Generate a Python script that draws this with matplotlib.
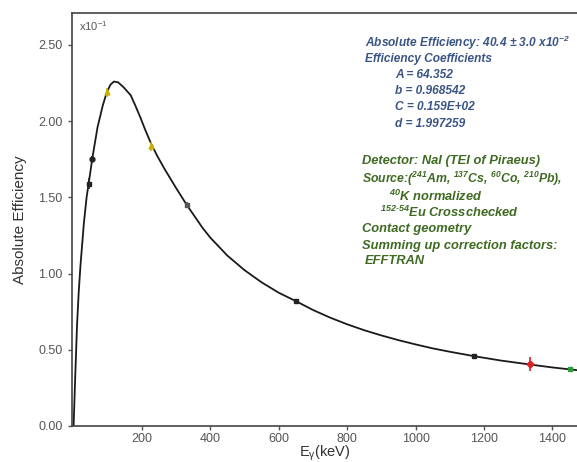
import numpy as np
import matplotlib
matplotlib.use("Agg")
import matplotlib.pyplot as plt

plt.rcParams['font.family'] = ['Liberation Sans', 'DejaVu Sans']
plt.rcParams['mathtext.fontset'] = 'custom'
plt.rcParams['mathtext.rm'] = 'Liberation Sans'
plt.rcParams['mathtext.it'] = 'Liberation Sans:italic'
plt.rcParams['mathtext.bf'] = 'Liberation Sans:italic:bold'

# fitted efficiency curve (E in keV, efficiency x10^-1)
curve_e = [0, 5, 10, 15, 20, 30, 38, 46, 55, 70, 85, 97, 108, 118, 130, 145,
           167, 180, 196, 210, 227, 245, 265, 300, 331, 377, 400, 450, 500,
           550, 600, 651, 700, 750, 800, 850, 900, 950, 1000, 1050, 1100,
           1171, 1250, 1335, 1400, 1452, 1480]
curve_eff = [0.0, 0.34, 0.66, 0.88, 1.05, 1.33, 1.50, 1.62, 1.76, 1.96, 2.10,
             2.19, 2.24, 2.26, 2.255, 2.225, 2.17, 2.105, 2.02, 1.94, 1.85,
             1.77, 1.69, 1.56, 1.45, 1.30, 1.235, 1.117, 1.022, 0.942, 0.874,
             0.818, 0.761, 0.711, 0.667, 0.628, 0.594, 0.563, 0.535, 0.509,
             0.487, 0.458, 0.429, 0.403, 0.384, 0.371, 0.364]

# measured points
pt_e = [46, 55, 97, 227, 331, 651, 1171, 1335, 1452]
pt_eff = [1.59, 1.75, 2.19, 1.835, 1.447, 0.818, 0.458, 0.406, 0.371]
pt_err = [0.035, 0.02, 0.03, 0.03, 0.02, 0.01, 0.01, 0.045, 0.012]
pt_color = ['#222222', '#222222', '#c8b400', '#c8b400', '#555555',
            '#222222', '#222222', '#e02020', '#2a9a3a']
pt_marker = ['s', 'o', '^', '^', 's', 's', 's', 'D', 's']

fig = plt.figure(figsize=(5.77, 4.62), dpi=100)
ax = fig.add_axes([0.124, 0.078, 0.876, 0.894])

ax.plot(curve_e, curve_eff, color='#1a1a1a', lw=1.3, zorder=2)
for e, v, err, c, m in zip(pt_e, pt_eff, pt_err, pt_color, pt_marker):
    ax.errorbar(e, v, yerr=err, fmt=m, color=c, ms=3.5, elinewidth=1.2,
                capsize=0, zorder=3)

ax.set_xlim(-6, 1472)
ax.set_ylim(0, 2.71)
ax.set_xticks([200, 400, 600, 800, 1000, 1200, 1400])
ax.set_yticks([0, 0.5, 1.0, 1.5, 2.0, 2.5])
ax.set_yticklabels(['0.00', '0.50', '1.00', '1.50', '2.00', '2.50'])
ax.tick_params(colors='#555555', labelsize=9, length=3, width=1)
ax.tick_params(axis='x', pad=2)
ax.spines['right'].set_visible(False)
for s in ['left', 'top', 'bottom']:
    ax.spines[s].set_color('#444444')
    ax.spines[s].set_linewidth(1.2)

ax.set_ylabel('Absolute Efficiency', fontsize=11, color='#333333', labelpad=8)
ax.set_xlabel(r'E$_\mathrm{\gamma}$(keV)', fontsize=10.5, color='#333333',
              labelpad=-1)

ax.text(0.014, 0.985, r'x10$^{-1}$', transform=ax.transAxes, fontsize=8,
        color='#555555', va='top')

blue = '#3a5585'
green = '#3f6a22'
kw = dict(transform=fig.transFigure, fontstyle='italic',
          fontweight='bold', va='center', ha='left')

fig.text(365/577, 1-43/462, r'Absolute Efficiency: 40.4 ± 3.0 x10$^{\mathbf{-2}}$', color=blue, fontsize=8.6, **kw)
fig.text(365/577, 1-59/462, 'Efficiency Coefficients', color=blue, fontsize=8.6, **kw)
fig.text(395/577, 1-75/462, 'A = 64.352', color=blue, fontsize=8.6, **kw)
fig.text(395/577, 1-91/462, 'b = 0.968542', color=blue, fontsize=8.6, **kw)
fig.text(395/577, 1-107/462, 'C = 0.159E+02', color=blue, fontsize=8.6, **kw)
fig.text(395/577, 1-124/462, 'd = 1.997259', color=blue, fontsize=8.6, **kw)

gs = 9.3
fig.text(362/577, 1-161/462, 'Detector: NaI (TEI of Piraeus)', color=green, fontsize=gs, **kw)
fig.text(362/577, 1-179/462, r'Source:($^{\mathbf{241}}$Am, $^{\mathbf{137}}$Cs, $^{\mathbf{60}}$Co, $^{\mathbf{210}}$Pb),', color=green, fontsize=gs - 0.5, **kw)
fig.text(389/577, 1-196/462, r'$^{\mathbf{40}}$K normalized', color=green, fontsize=gs, **kw)
fig.text(380/577, 1-212/462, r'$^{\mathbf{152}\text{-}\mathbf{54}}$Eu Crosschecked', color=green, fontsize=gs, **kw)
fig.text(362/577, 1-229/462, 'Contact geometry', color=green, fontsize=gs, **kw)
fig.text(362/577, 1-246/462, 'Summing up correction factors:', color=green, fontsize=gs, **kw)
fig.text(365/577, 1-261/462, 'EFFTRAN', color=green, fontsize=gs, **kw)

fig.savefig('out.png', dpi=100)
